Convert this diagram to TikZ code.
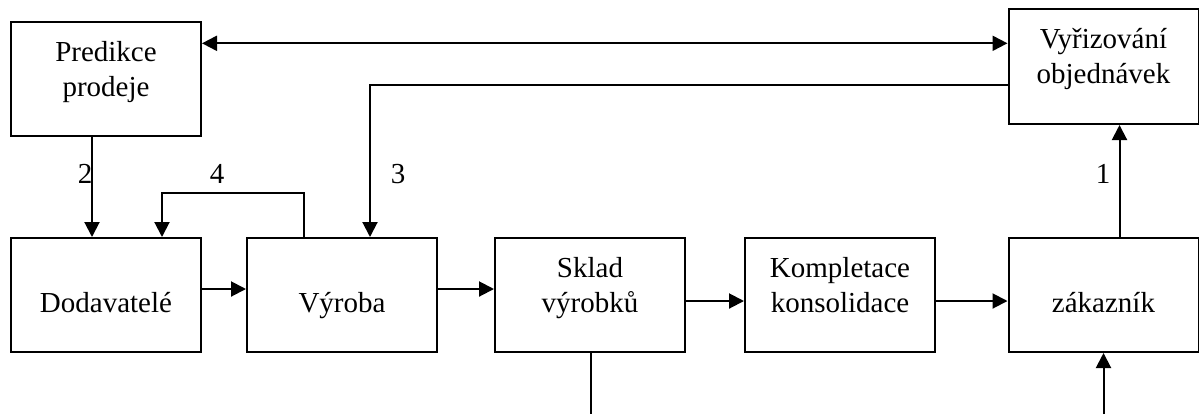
\documentclass[tikz,border=0pt]{standalone}
\usepackage{fontspec}
\setmainfont{Liberation Serif}
\usetikzlibrary{arrows.meta,calc}

\tikzset{
  box/.style={draw, line width=1pt, minimum width=95pt, minimum height=57pt, inner sep=0pt},
  txt/.style={anchor=base, align=center, inner sep=0pt,
    font=\fontsize{14.5pt}{17.5pt}\selectfont},
  num/.style={anchor=base, inner sep=0pt, font=\fontsize{14.5pt}{17.5pt}\selectfont},
  link/.style={line width=1pt},
  arr/.style={link, -{Triangle[length=7.5pt,width=7.5pt]}},
  darr/.style={link, {Triangle[length=7.5pt,width=7.5pt]}-{Triangle[length=7.5pt,width=7.5pt]}}
}

\begin{document}
\begin{tikzpicture}[x=0.5pt,y=-0.5pt]
  \useasboundingbox (0,0) rectangle (1199,414);
  \fill[white] (0,0) rectangle (1199,414);

  % boxes
  \node[box] (pred)   at (106,78.5)    {};
  \node[box, minimum height=57.5pt] (vyr) at (1103.5,66.5) {};
  \node[box] (dod)    at (106,295)     {};
  \node[box] (vyroba) at (342,295)     {};
  \node[box] (sklad)  at (590,295)     {};
  \node[box] (komp)   at (840,295)     {};
  \node[box] (zak)    at (1103.5,295)  {};

  % box texts (base = baseline of the last line)
  \node[txt] (predT)   at (106,96)    {Predikce\\prodeje};
  \node[txt] (vyrT)    at (1103.5,83) {Vyřizování\\objednávek};
  \node[txt] (dodT)    at (106,312)   {Dodavatelé};
  \node[txt] (vyrobaT) at (342,312)   {Výroba};
  \node[txt] (skladT)  at (590,312)   {Sklad\\výrobků};
  \node[txt] (kompT)   at (840,312)   {Kompletace\\konsolidace};
  \node[txt] (zakT)    at (1103.5,312) {zákazník};

  % helper coordinates
  \coordinate (top) at (0,43.3);
  \coordinate (mid) at (0,85);
  \coordinate (bot) at (0,414);

  % top row connectors
  \draw[darr] (pred.east |- top) -- (vyr.west |- top);
  \draw[arr] (vyr.west |- mid) -| ($(vyroba.north west)+(124,0)$);
  \draw[arr] ($(pred.south west)+(82,0)$) -- ($(dod.north west)+(82,0)$);
  \draw[arr] ($(vyroba.north west)+(58,0)$) -- ($(vyroba.north west)+(58,-44.4)$)
             -| ($(dod.north west)+(152,0)$);
  \draw[arr] ($(zak.north west)+(112,0)$) -- ($(vyr.south west)+(112,0)$);

  % main flow
  \draw[arr] ($(dod.east)+(0,-6)$) -- ($(vyroba.west)+(0,-6)$);
  \draw[arr] ($(vyroba.east)+(0,-6)$) -- ($(sklad.west)+(0,-6)$);
  \draw[arr] ($(sklad.east)+(0,6)$) -- ($(komp.west)+(0,6)$);
  \draw[arr] ($(komp.east)+(0,6)$) -- ($(zak.west)+(0,6)$);

  % lines leaving at the bottom
  \draw[link] ($(sklad.south)+(1,0)$) -- ($(sklad.south |- bot)+(1,0)$);
  \draw[arr] (zak.south |- bot) -- (zak.south);

  % connector numbers
  \node[num] (n2) at (85,183)   {2};
  \node[num] (n4) at (217,183)  {4};
  \node[num] (n3) at (398,183)  {3};
  \node[num] (n1) at (1103,183) {1};
\end{tikzpicture}
\end{document}
